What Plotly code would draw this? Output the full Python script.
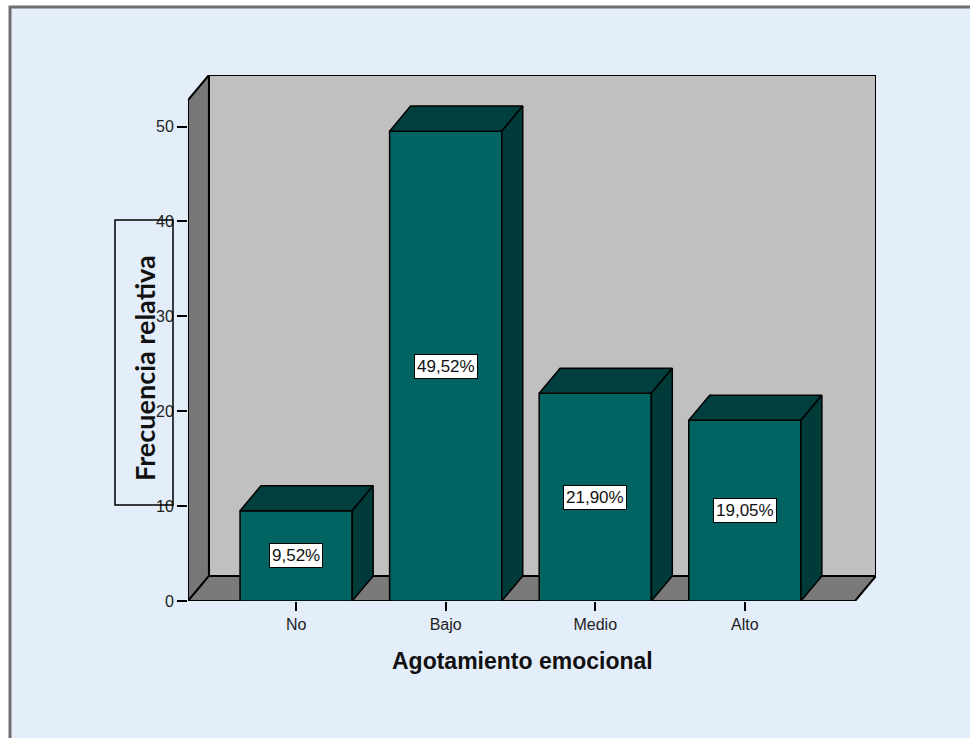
import plotly.graph_objects as go

# ---- data ----
categories = ["No", "Bajo", "Medio", "Alto"]
values = [9.52, 49.52, 21.90, 19.05]
y_ticks = [0, 10, 20, 30, 40, 50]
x_title = "Agotamiento emocional"
y_title = "Frecuencia relativa"

# ---- style / geometry (data units) ----
W, H = 970, 738
L, R, T, B = 188, 94, 75, 137
bar_w = 0.75
depth_x = 0.14
depth_y = 2.64
wall_top = 52.8
floor_left = -0.723
floor_right = 3.737
x_range = [floor_left, floor_right + depth_x]
y_range = [0, wall_top + depth_y]

FRONT = "#006562"
TOP = "#003f3e"
SIDE = "#003a39"
BACKWALL = "#c0c0c0"
SIDEWALL = "#777777"
FLOOR = "#7a7a7a"
BG = "#e3eefa"

pw = W - L - R
ph = H - T - B


def px_to_paper_x(px):
    return (px - L) / pw


def px_to_paper_y(py):
    return (H - B - py) / ph


xs = list(range(len(categories)))

fig = go.Figure()

# front faces of bars
fig.add_trace(go.Bar(
    x=xs, y=values, width=bar_w,
    marker=dict(color=FRONT, line=dict(color="black", width=1.5)),
    hoverinfo="skip", showlegend=False,
))

# top and side faces
for x, v in zip(xs, values):
    hw = bar_w / 2
    fig.add_trace(go.Scatter(
        x=[x - hw, x + hw, x + hw + depth_x, x - hw + depth_x, x - hw],
        y=[v, v, v + depth_y, v + depth_y, v],
        fill="toself", fillcolor=TOP, mode="lines",
        line=dict(color="black", width=1.5), hoverinfo="skip", showlegend=False,
    ))
    fig.add_trace(go.Scatter(
        x=[x + hw, x + hw, x + hw + depth_x, x + hw + depth_x, x + hw],
        y=[0, v, v + depth_y, depth_y, 0],
        fill="toself", fillcolor=SIDE, mode="lines",
        line=dict(color="black", width=1.5), hoverinfo="skip", showlegend=False,
    ))

shapes = []
# outer frame
shapes.append(dict(type="rect", xref="paper", yref="paper", layer="below",
                   x0=px_to_paper_x(10), x1=px_to_paper_x(1200),
                   y0=px_to_paper_y(1000), y1=px_to_paper_y(7),
                   fillcolor=BG, line=dict(color="#6e6e6e", width=3)))
# back wall
shapes.append(dict(type="rect", xref="x", yref="y", layer="below",
                   x0=floor_left + depth_x, x1=floor_right + depth_x,
                   y0=depth_y, y1=wall_top + depth_y,
                   fillcolor=BACKWALL, line=dict(color="black", width=2)))
# left wall
shapes.append(dict(type="path", xref="x", yref="y", layer="below",
                   path=(f"M {floor_left},0 L {floor_left},{wall_top} "
                         f"L {floor_left + depth_x},{wall_top + depth_y} "
                         f"L {floor_left + depth_x},{depth_y} Z"),
                   fillcolor=SIDEWALL, line=dict(color="black", width=2)))
# floor
shapes.append(dict(type="path", xref="x", yref="y", layer="below",
                   path=(f"M {floor_left},0 L {floor_right},0 "
                         f"L {floor_right + depth_x},{depth_y} "
                         f"L {floor_left + depth_x},{depth_y} Z"),
                   fillcolor=FLOOR, line=dict(color="black", width=2)))
# y title box
shapes.append(dict(type="rect", xref="paper", yref="paper", layer="above",
                   x0=px_to_paper_x(115), x1=px_to_paper_x(173),
                   y0=px_to_paper_y(505), y1=px_to_paper_y(220),
                   fillcolor="rgba(0,0,0,0)", line=dict(color="black", width=1.5)))

annotations = []
for x, v in zip(xs, values):
    annotations.append(dict(
        x=x, y=v / 2, xref="x", yref="y", showarrow=False,
        xanchor="center", yanchor="middle",
        text=f"{v:.2f}".replace(".", ",") + "%",
        font=dict(family="Arial, Liberation Sans", size=17, color="#111"),
        bgcolor="white", bordercolor="black", borderwidth=1, borderpad=2,
    ))
annotations.append(dict(
    x=px_to_paper_x(522), y=px_to_paper_y(661), xref="paper", yref="paper",
    xanchor="center", yanchor="middle",
    showarrow=False, text=f"<b>{x_title}</b>",
    font=dict(family="Arial, Liberation Sans", size=23, color="#111"),
))
annotations.append(dict(
    x=px_to_paper_x(145), y=px_to_paper_y(368), xref="paper", yref="paper",
    xanchor="center", yanchor="middle",
    showarrow=False, text=f"<b>{y_title}</b>", textangle=-90,
    font=dict(family="Lato, Open Sans", size=27, color="#111"),
))

fig.update_layout(
    width=W, height=H,
    margin=dict(l=L, r=R, t=T, b=B, pad=0),
    paper_bgcolor="white", plot_bgcolor="rgba(0,0,0,0)",
    shapes=shapes, annotations=annotations, showlegend=False,
    xaxis=dict(range=x_range, tickmode="array", tickvals=xs, ticktext=categories,
               ticks="outside", ticklen=9, tickwidth=1.5, tickcolor="black",
               showgrid=False, zeroline=False, showline=False, fixedrange=True,
               tickfont=dict(family="Arial, Liberation Sans", size=16, color="#222")),
    yaxis=dict(range=y_range, tickmode="array", tickvals=y_ticks,
               ticks="outside", ticklen=10, tickwidth=1.5, tickcolor="black",
               showgrid=False, zeroline=False, showline=False, fixedrange=True,
               tickfont=dict(family="Arial, Liberation Sans", size=16, color="#222")),
)

fig.write_html("out.html")
